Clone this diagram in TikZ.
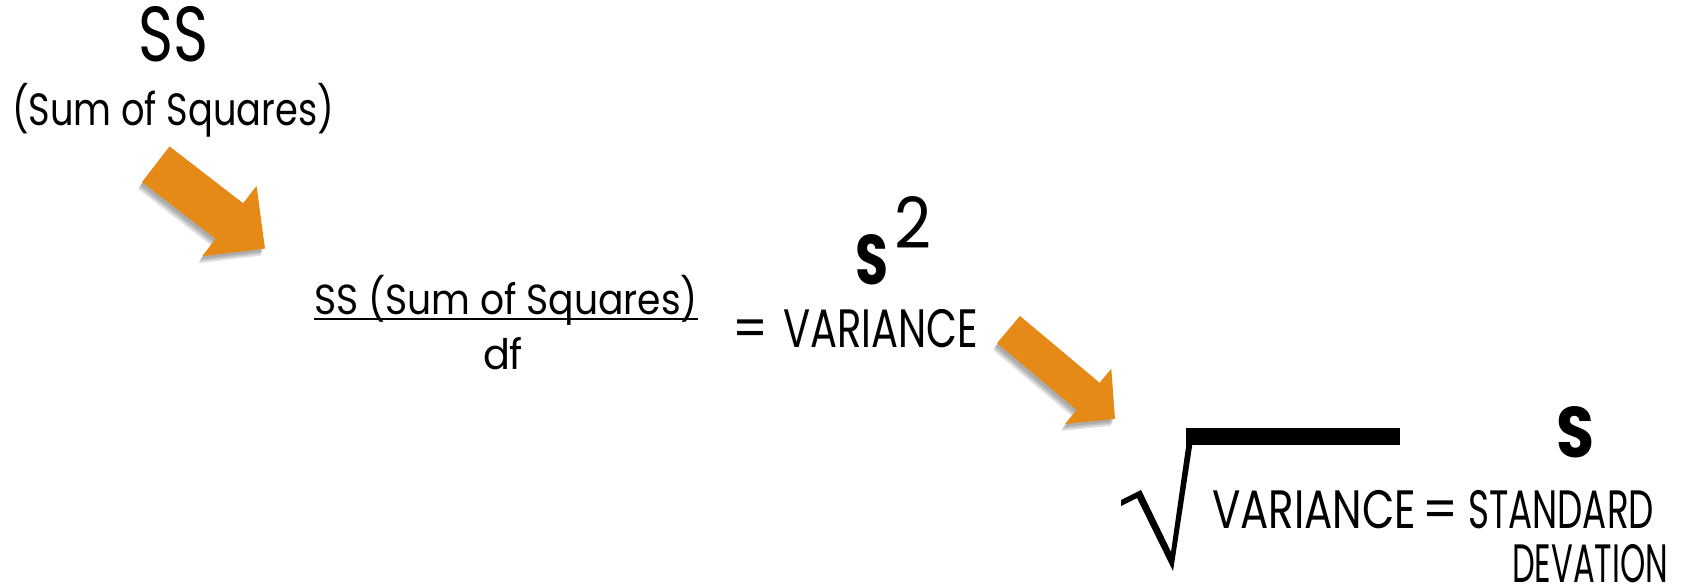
\documentclass[tikz,border=0pt]{standalone}
\usepackage{fontspec}
\usepackage{graphicx}
\setmainfont{Poppins}
\definecolor{arroworange}{RGB}{229,138,23}
\newcommand\myarrowpath[4]{(0,-#3) -- (#1,-#3) -- (#1,-#4) -- ({#1+#2},0) -- (#1,#4) -- (#1,#3) -- (0,#3) -- cycle}
\newcommand\fitw[2]{\resizebox{#1}{\height}{#2}}
\tikzset{
  txt/.style={inner sep=0pt, outer sep=0pt, text=black},
  arrowfill/.style={fill=arroworange},
  shadowfill/.style={fill=black, opacity=0.12},
}
\begin{document}
\begin{tikzpicture}[x=0.5pt, y=-0.5pt]
\useasboundingbox (0,0) rectangle (1700,588);
\fill[white] (0,0) rectangle (1700,588);

% top label
\node[txt, anchor=base west] (ss) at (138,62) {\fontsize{39}{39}\selectfont\fitw{35pt}{SS}};
\node[txt, anchor=base west] (sumsq) at (12,126) {\fontsize{22.6}{22.6}\selectfont\fitw{161pt}{(Sum of Squares)}};

% arrow 1 (shadow + body)
\foreach \dx/\dy in {-2/3,-3/5,-4/7}{
  \begin{scope}[shift={({155.8+\dx},{164.2+\dy})}, rotate=-37.7]
    \fill[shadowfill] \myarrowpath{93}{45}{22.5}{44.5};
  \end{scope}
}
\begin{scope}[shift={(155.8,164.2)}, rotate=-37.7]
  \fill[arrowfill] \myarrowpath{93}{45}{22.5}{44.5};
\end{scope}

% fraction
\node[txt, anchor=base west] (num) at (314,314) {\fontsize{21}{21}\selectfont\fitw{192pt}{SS (Sum of Squares)}};
\draw[line width=1pt] ([yshift=-2.5pt]num.base west) -- ([yshift=-2.5pt]num.base east);
\node[txt, anchor=base west] (df) at (483,369) {\fontsize{21}{21}\selectfont\fitw{20pt}{df}};

\node[txt, anchor=base west] (var1) at (732,347) {\fontsize{27}{27}\selectfont\fitw{18pt}{=}\hspace{7.5pt}\fitw{97.5pt}{VARIANCE}};
\node[txt, anchor=base west] (s2) at (855,284) {\resizebox{16.5pt}{25pt}{\bfseries S}\hspace{3pt}\raisebox{17.5pt}{\resizebox{18.5pt}{26pt}{2}}};

% arrow 2
\foreach \dx/\dy in {-2/3,-3/5,-4/7}{
  \begin{scope}[shift={({1008.5+\dx},{329.5+\dy})}, rotate=-40]
    \fill[shadowfill] \myarrowpath{104}{35}{17.75}{36};
  \end{scope}
}
\begin{scope}[shift={(1008.5,329.5)}, rotate=-40]
  \fill[arrowfill] \myarrowpath{104}{35}{17.75}{36};
\end{scope}

% radical
\fill[black] (1121,506) -- (1121,500) -- (1141,490) -- (1171,552) -- (1187,440)
  -- (1193,440) -- (1173,571) -- (1137,498) -- cycle;
\fill[black] (1186,428) rectangle (1400,445);

\node[txt, anchor=base west] (sres) at (1556,457) {\resizebox{19pt}{25.5pt}{\bfseries S}};
\node[txt, anchor=base west] (var2) at (1212,528) {\fontsize{27}{27}\selectfont\fitw{102pt}{VARIANCE}\hspace{3pt}\fitw{18pt}{=}\hspace{5pt}\fitw{93pt}{STANDARD}};
\node[txt, anchor=base west, text depth=0pt] (dev) at (1512,582) {\fontsize{27}{27}\selectfont\fitw{78pt}{DEVATION}};
\end{tikzpicture}
\end{document}
